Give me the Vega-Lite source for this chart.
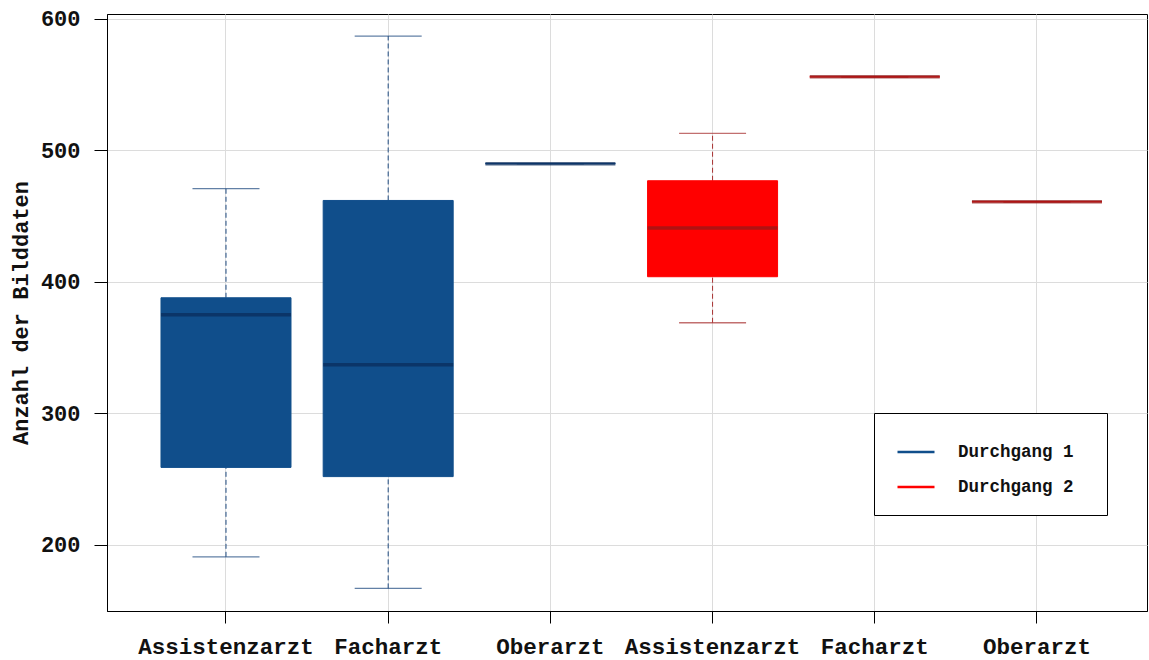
{
  "$schema": "https://vega.github.io/schema/vega-lite/v6.json",
  "width": 1040,
  "height": 597,
  "autosize": {"type": "none"},
  "padding": {"left": 107, "top": 14, "right": 2, "bottom": 49},
  "background": "white",
  "config": {
    "view": {"stroke": "black", "strokeWidth": 1},
    "font": "Liberation Mono",
    "axis": {
      "labelFont": "Liberation Mono",
      "labelFontWeight": "bold",
      "labelColor": "#111111",
      "titleFont": "Liberation Mono",
      "titleFontWeight": "bold",
      "titleColor": "#111111",
      "domainColor": "black",
      "domainWidth": 1,
      "tickColor": "black",
      "gridColor": "#DCDCDC",
      "gridWidth": 1
    },
    "legend": {
      "labelFont": "Liberation Mono",
      "labelFontWeight": "bold",
      "labelFontSize": 17.5,
      "labelColor": "#111111",
      "titleFont": "Liberation Mono",
      "titleFontSize": 17.5
    }
  },
  "data": {
    "values": [
      {"gruppe": "Assistenzarzt|1", "durchgang": "Durchgang 1", "min": 191, "q1": 259, "median": 375, "q3": 388, "max": 471},
      {"gruppe": "Facharzt|1", "durchgang": "Durchgang 1", "min": 167, "q1": 252, "median": 337, "q3": 462, "max": 587},
      {"gruppe": "Oberarzt|1", "durchgang": "Durchgang 1", "min": 490, "q1": 490, "median": 490, "q3": 490, "max": 490},
      {"gruppe": "Assistenzarzt|2", "durchgang": "Durchgang 2", "min": 369, "q1": 404, "median": 441, "q3": 477, "max": 513},
      {"gruppe": "Facharzt|2", "durchgang": "Durchgang 2", "min": 556, "q1": 556, "median": 556, "q3": 556, "max": 556},
      {"gruppe": "Oberarzt|2", "durchgang": "Durchgang 2", "min": 461, "q1": 461, "median": 461, "q3": 461, "max": 461}
    ]
  },
  "encoding": {
    "x": {
      "field": "gruppe",
      "type": "nominal",
      "sort": ["Assistenzarzt|1", "Facharzt|1", "Oberarzt|1", "Assistenzarzt|2", "Facharzt|2", "Oberarzt|2"],
      "scale": {"type": "band", "paddingInner": 0, "paddingOuter": 0.206, "align": 0.567},
      "axis": {
        "title": null,
        "labelAngle": 0,
        "labelExpr": "split(datum.label, '|')[0]",
        "labelFontSize": 22.5,
        "labelPadding": 12,
        "tickSize": 12,
        "grid": true,
        "bandPosition": 0.5
      }
    }
  },
  "layer": [
    {
      "mark": {"type": "rule", "strokeWidth": 1, "strokeDash": [5, 3]},
      "encoding": {
        "y": {"field": "min", "type": "quantitative", "scale": {"domain": [149.8, 603.8], "nice": false, "zero": false},
          "axis": {"title": "Anzahl der Bilddaten", "values": [200, 300, 400, 500, 600], "labelFontSize": 22, "titleFontSize": 22, "tickSize": 13, "labelPadding": 14, "titlePadding": 8, "grid": true}},
        "y2": {"field": "q1"},
        "color": {"field": "durchgang", "type": "nominal", "scale": {"domain": ["Durchgang 1", "Durchgang 2"], "range": ["#1F4A80", "#A83232"]}, "legend": null}
      }
    },
    {
      "mark": {"type": "rule", "strokeWidth": 1, "strokeDash": [5, 3]},
      "encoding": {
        "y": {"field": "q3", "type": "quantitative"},
        "y2": {"field": "max"},
        "color": {"field": "durchgang", "type": "nominal", "scale": {"domain": ["Durchgang 1", "Durchgang 2"], "range": ["#1F4A80", "#A83232"]}, "legend": null}
      }
    },
    {
      "mark": {"type": "tick", "size": 67, "thickness": 1.3},
      "encoding": {
        "y": {"field": "min", "type": "quantitative"},
        "color": {"field": "durchgang", "type": "nominal", "scale": {"domain": ["Durchgang 1", "Durchgang 2"], "range": ["#1F4A80", "#A83232"]}, "legend": null}
      }
    },
    {
      "mark": {"type": "tick", "size": 67, "thickness": 1.3},
      "encoding": {
        "y": {"field": "max", "type": "quantitative"},
        "color": {"field": "durchgang", "type": "nominal", "scale": {"domain": ["Durchgang 1", "Durchgang 2"], "range": ["#1F4A80", "#A83232"]}, "legend": null}
      }
    },
    {
      "mark": {"type": "bar", "width": 130, "strokeWidth": 1},
      "encoding": {
        "y": {"field": "q1", "type": "quantitative"},
        "y2": {"field": "q3"},
        "fill": {"field": "durchgang", "type": "nominal", "scale": {"domain": ["Durchgang 1", "Durchgang 2"], "range": ["#104E8B", "#FF0000"]},
          "legend": {"title": "\u00a0", "titleOrient": "right", "titlePadding": 14, "orient": "none", "legendX": 767, "legendY": 399, "symbolType": "stroke", "symbolSize": 1369, "symbolStrokeWidth": 2.5, "symbolOffset": 3, "labelOffset": 22, "rowPadding": 6, "padding": 19, "strokeColor": "black", "fillColor": "white"}},
        "stroke": {"field": "durchgang", "type": "nominal", "scale": {"domain": ["Durchgang 1", "Durchgang 2"], "range": ["#104E8B", "#FF0000"]},
          "legend": {"title": "\u00a0", "titleOrient": "right", "titlePadding": 14, "orient": "none", "legendX": 767, "legendY": 399, "symbolType": "stroke", "symbolSize": 1369, "symbolStrokeWidth": 2.5, "symbolOffset": 3, "labelOffset": 22, "rowPadding": 6, "padding": 19, "strokeColor": "black", "fillColor": "white"}}
      }
    },
    {
      "mark": {"type": "tick", "size": 130, "thickness": 3.5},
      "encoding": {
        "y": {"field": "median", "type": "quantitative"},
        "color": {"field": "durchgang", "type": "nominal", "scale": {"domain": ["Durchgang 1", "Durchgang 2"], "range": ["#0A2B5A", "#8E1A1A"]}, "legend": null}
      }
    }
  ],
  "resolve": {"scale": {"color": "independent"}}
}
